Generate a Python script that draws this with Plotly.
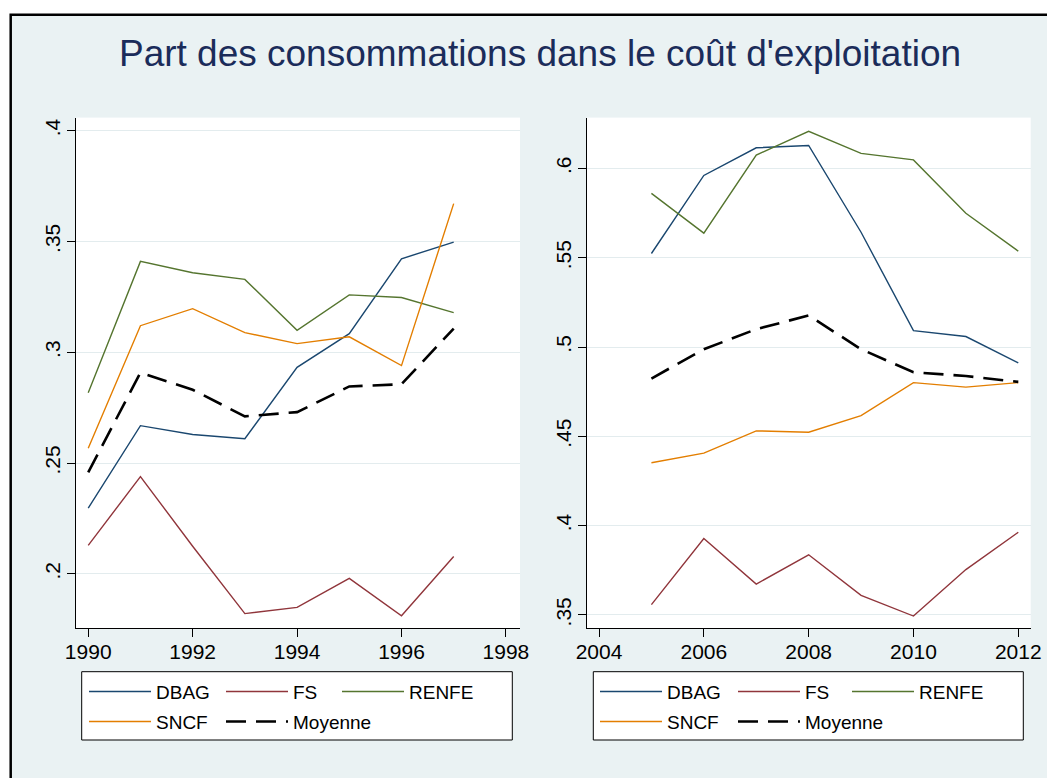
import plotly.graph_objects as go

# ---------------- data ----------------
series_names = ["DBAG", "FS", "RENFE", "SNCF", "Moyenne"]

years_left = [1990, 1991, 1992, 1993, 1994, 1995, 1996, 1997]
dbag_left = [0.2297, 0.2669, 0.2629, 0.2610, 0.2932, 0.3084, 0.3422, 0.3497]
fs_left = [0.2129, 0.2439, 0.2125, 0.1821, 0.1849, 0.1980, 0.1811, 0.2079]
renfe_left = [0.2817, 0.3410, 0.3359, 0.3329, 0.3099, 0.3259, 0.3247, 0.3179]
sncf_left = [0.2567, 0.3120, 0.3197, 0.3089, 0.3039, 0.3070, 0.2940, 0.3671]
moy_left = [0.2458, 0.2908, 0.2831, 0.2711, 0.2730, 0.2846, 0.2856, 0.3107]

years_right = [2005, 2006, 2007, 2008, 2009, 2010, 2011, 2012]
dbag_right = [0.5524, 0.5961, 0.6116, 0.6129, 0.5643, 0.5092, 0.5059, 0.4911]
fs_right = [0.3558, 0.3928, 0.3673, 0.3837, 0.3610, 0.3494, 0.3754, 0.3963]
renfe_right = [0.5861, 0.5638, 0.6075, 0.6208, 0.6085, 0.6048, 0.5749, 0.5537]
sncf_right = [0.4352, 0.4406, 0.4531, 0.4523, 0.4616, 0.4801, 0.4776, 0.4801]
moy_right = [0.4824, 0.4988, 0.5100, 0.5177, 0.4988, 0.4859, 0.4838, 0.4805]

left_xticks = [1990, 1992, 1994, 1996, 1998]
left_yticks = [0.2, 0.25, 0.3, 0.35, 0.4]
left_yticklabels = [".2", ".25", ".3", ".35", ".4"]
right_xticks = [2004, 2006, 2008, 2010, 2012]
right_yticks = [0.35, 0.4, 0.45, 0.5, 0.55, 0.6]
right_yticklabels = [".35", ".4", ".45", ".5", ".55", ".6"]

title_text = "Part des consommations dans le coût d'exploitation"

# ---------------- styles ----------------
W, H = 1055, 778
OFF = 8  # page body margin
FONT = "Liberation Sans, Arial, Helvetica, sans-serif"
colors = {"DBAG": "#1A476F", "FS": "#90353B", "RENFE": "#55752F",
          "SNCF": "#E37E00", "Moyenne": "#000000"}
BG = "#EAF2F3"
GRID = "#E3ECEE"


def px_x(v):
    return (v - OFF) / W


def px_y(v):
    return 1 - (v - OFF) / H


fig = go.Figure()

left_data = {"DBAG": dbag_left, "FS": fs_left, "RENFE": renfe_left,
             "SNCF": sncf_left, "Moyenne": moy_left}
right_data = {"DBAG": dbag_right, "FS": fs_right, "RENFE": renfe_right,
              "SNCF": sncf_right, "Moyenne": moy_right}

# each legend entry gets its own legend so columns match the reference
leg_left = {"DBAG": "legend", "FS": "legend2", "RENFE": "legend3",
            "SNCF": "legend4", "Moyenne": "legend5"}
leg_right = {"DBAG": "legend6", "FS": "legend7", "RENFE": "legend8",
             "SNCF": "legend9", "Moyenne": "legend10"}

for years, data, xa, ya, legs in [
        (years_left, left_data, "x", "y", leg_left),
        (years_right, right_data, "x2", "y2", leg_right)]:
    for name in series_names:
        is_mean = name == "Moyenne"
        fig.add_trace(go.Scatter(
            x=years, y=data[name], mode="lines", name=name,
            xaxis=xa, yaxis=ya,
            legend=legs[name],
            line=dict(color=colors[name], width=2.6 if is_mean else 1.4,
                      dash="20px,10px" if is_mean else "solid"),
            hoverinfo="skip",
        ))

axis_common = dict(showline=True, linecolor="#000000", linewidth=1,
                   ticks="outside", ticklen=8, tickcolor="#000000", tickwidth=1,
                   zeroline=False, automargin=False,
                   tickfont=dict(family=FONT, size=21, color="#000000"))

y_dom = [px_y(628), px_y(117.6)]

fig.update_layout(
    xaxis=dict(domain=[px_x(75.7), px_x(520)], range=[1989.76, 1998.27],
               tickvals=left_xticks, showgrid=False, anchor="y",
               ticklabelstandoff=-3, **axis_common),
    yaxis=dict(domain=y_dom, range=[0.1756, 0.4059], tickvals=left_yticks,
               ticktext=left_yticklabels, tickangle=-90, showgrid=True,
               gridcolor=GRID, gridwidth=1, anchor="x",
               ticklabelstandoff=-2, **axis_common),
    xaxis2=dict(domain=[px_x(586.7), px_x(1030.7)], range=[2003.765, 2012.237],
                tickvals=right_xticks, showgrid=False, anchor="y2",
                ticklabelstandoff=-3, **axis_common),
    yaxis2=dict(domain=y_dom, range=[0.3427, 0.6285], tickvals=right_yticks,
                ticktext=right_yticklabels, tickangle=-90, showgrid=True,
                gridcolor=GRID, gridwidth=1, anchor="x2",
                ticklabelstandoff=-2, **axis_common),
)

legend_common = dict(orientation="h", bgcolor="rgba(0,0,0,0)", borderwidth=0,
                     font=dict(family=FONT, size=19, color="#000000"),
                     itemwidth=62, xanchor="left", yanchor="middle")

ROW1, ROW2 = 691.7, 721.7
legend_pos = {
    "legend": (84, ROW1), "legend2": (221, ROW1), "legend3": (337, ROW1),
    "legend4": (84, ROW2), "legend5": (221, ROW2),
    "legend6": (595, ROW1), "legend7": (733, ROW1), "legend8": (847, ROW1),
    "legend9": (595, ROW2), "legend10": (733, ROW2),
}
fig.update_layout(**{k: dict(x=px_x(v[0]), y=px_y(v[1]), **legend_common)
                     for k, v in legend_pos.items()})

shapes = [
    # white strips outside the outer frame
    dict(type="rect", xref="paper", yref="paper", x0=-0.01, x1=px_x(10.7), y0=-0.01, y1=1.01,
         fillcolor="#FFFFFF", line=dict(width=0), layer="above"),
    dict(type="rect", xref="paper", yref="paper", x0=-0.01, x1=1.01, y0=px_y(14.7), y1=1.01,
         fillcolor="#FFFFFF", line=dict(width=0), layer="above"),
    # outer frame
    dict(type="rect", xref="paper", yref="paper", x0=px_x(10.7), x1=1.01,
         y0=-0.01, y1=px_y(14.7), line=dict(color="#000000", width=2.5), layer="above"),
    # legend boxes
    dict(type="rect", xref="paper", yref="paper", x0=px_x(81.7), x1=px_x(512.3),
         y0=px_y(740), y1=px_y(671.7), fillcolor="#FFFFFF",
         line=dict(color="#000000", width=1), layer="above"),
    dict(type="rect", xref="paper", yref="paper", x0=px_x(593.3), x1=px_x(1023.3),
         y0=px_y(740), y1=px_y(671.7), fillcolor="#FFFFFF",
         line=dict(color="#000000", width=1), layer="above"),
]

fig.update_layout(
    width=W, height=H,
    margin=dict(l=0, r=0, t=0, b=0, autoexpand=False),
    paper_bgcolor=BG, plot_bgcolor="#FFFFFF",
    showlegend=True,
    shapes=shapes,
    title=dict(text=title_text, x=px_x(540), y=px_y(53), xref="paper", yref="container",
               xanchor="center", yanchor="middle",
               font=dict(family=FONT, size=37, color="#1B2C5A")),
    font=dict(family=FONT),
)

fig.write_html("out.html")
